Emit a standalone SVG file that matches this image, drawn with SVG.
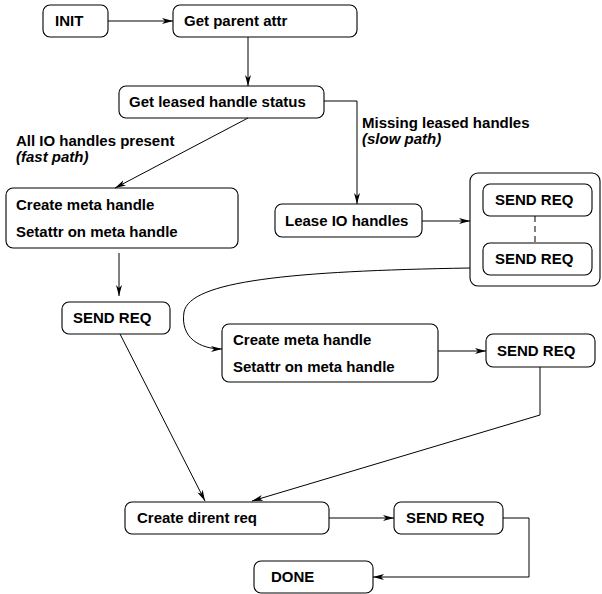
<svg xmlns="http://www.w3.org/2000/svg" width="602" height="594" viewBox="0 0 602 594">
<style>
  .box { fill: #ffffff; stroke: #000000; stroke-width: 1.1; }
  .t { font-family: "Liberation Sans", Arial, Helvetica, sans-serif; font-size: 15px; font-weight: bold; fill: #000000; }
  .it { font-style: italic; }
  .c { fill: none; stroke: #000000; stroke-width: 1; }
  .dash { stroke-dasharray: 6 4; }
</style>
<defs>
  <marker id="arr" markerUnits="userSpaceOnUse" markerWidth="12" markerHeight="8" refX="11" refY="4" orient="auto">
    <path d="M0,1 L11,4 L0,7 L3,4 Z" fill="#000000"/>
  </marker>
</defs>
<rect width="602" height="594" fill="#ffffff"/>

<g id="labels">
  <text class="t" x="16" y="146">All IO handles present</text>
  <text class="t it" x="16" y="162">(fast path)</text>
  <text class="t" x="362" y="128">Missing leased handles</text>
  <text class="t it" x="362" y="144">(slow path)</text>
</g>

<g id="n-init">
  <rect class="box" x="43" y="5" width="65" height="32" rx="7"/>
  <text class="t" x="55" y="26">INIT</text>
</g>
<g id="n-get-parent">
  <rect class="box" x="173" y="5" width="184" height="32" rx="7"/>
  <text class="t" x="184" y="26">Get parent attr</text>
</g>
<g id="n-get-leased">
  <rect class="box" x="119" y="86" width="205" height="32" rx="7"/>
  <text class="t" x="129" y="107">Get leased handle status</text>
</g>
<g id="n-create-meta-fast">
  <rect class="box" x="6" y="188" width="232" height="60" rx="7"/>
  <text class="t" x="16" y="210">Create meta handle</text>
  <text class="t" x="16" y="237">Setattr on meta handle</text>
</g>
<g id="n-lease-io">
  <rect class="box" x="275" y="204" width="147" height="33" rx="7"/>
  <text class="t" x="285" y="226">Lease IO handles</text>
</g>
<g id="n-send-group">
  <rect class="box" x="470" y="173" width="130" height="113" rx="8"/>
  <g id="n-send-req-1">
    <rect class="box" x="483" y="184" width="109" height="32" rx="7"/>
    <text class="t" x="495" y="205">SEND REQ</text>
  </g>
  <g id="n-send-req-2">
    <rect class="box" x="483" y="243" width="109" height="32" rx="7"/>
    <text class="t" x="495" y="264">SEND REQ</text>
  </g>
</g>
<g id="n-send-req-fast">
  <rect class="box" x="62" y="302" width="108" height="32" rx="7"/>
  <text class="t" x="73" y="323">SEND REQ</text>
</g>
<g id="n-create-meta-slow">
  <rect class="box" x="222" y="324" width="216" height="58" rx="7"/>
  <text class="t" x="233" y="345">Create meta handle</text>
  <text class="t" x="233" y="372">Setattr on meta handle</text>
</g>
<g id="n-send-req-slow">
  <rect class="box" x="486" y="334" width="109" height="33" rx="7"/>
  <text class="t" x="497" y="356">SEND REQ</text>
</g>
<g id="n-create-dirent">
  <rect class="box" x="125" y="502" width="204" height="32" rx="7"/>
  <text class="t" x="137" y="523">Create dirent req</text>
</g>
<g id="n-send-req-dirent">
  <rect class="box" x="394" y="502" width="109" height="32" rx="7"/>
  <text class="t" x="406" y="523">SEND REQ</text>
</g>
<g id="n-done">
  <rect class="box" x="254" y="561" width="119" height="32" rx="7"/>
  <text class="t" x="271" y="582">DONE</text>
</g>

<g id="connectors">
  <path class="c" d="M108,21 H173" marker-end="url(#arr)"/>
  <path class="c" d="M248,37 V86" marker-end="url(#arr)"/>
  <path class="c" d="M324,101 H357 V204" marker-end="url(#arr)"/>
  <path class="c" d="M248,118 L115,188" marker-end="url(#arr)"/>
  <path class="c" d="M422,221 H470" marker-end="url(#arr)"/>
  <path class="c dash" d="M535,216 V243"/>
  <path class="c" d="M470,268 C290,271 190,281 184,312 C180,338 200,349 222,349" marker-end="url(#arr)"/>
  <path class="c" d="M119,253 V296" marker-end="url(#arr)"/>
  <path class="c" d="M438,351 H486" marker-end="url(#arr)"/>
  <path class="c" d="M120,334 L205,501" marker-end="url(#arr)"/>
  <path class="c" d="M540,367 V415 L252,501" marker-end="url(#arr)"/>
  <path class="c" d="M329,518 H394" marker-end="url(#arr)"/>
  <path class="c" d="M503,518 H529 V577 H373" marker-end="url(#arr)"/>
</g>
</svg>
